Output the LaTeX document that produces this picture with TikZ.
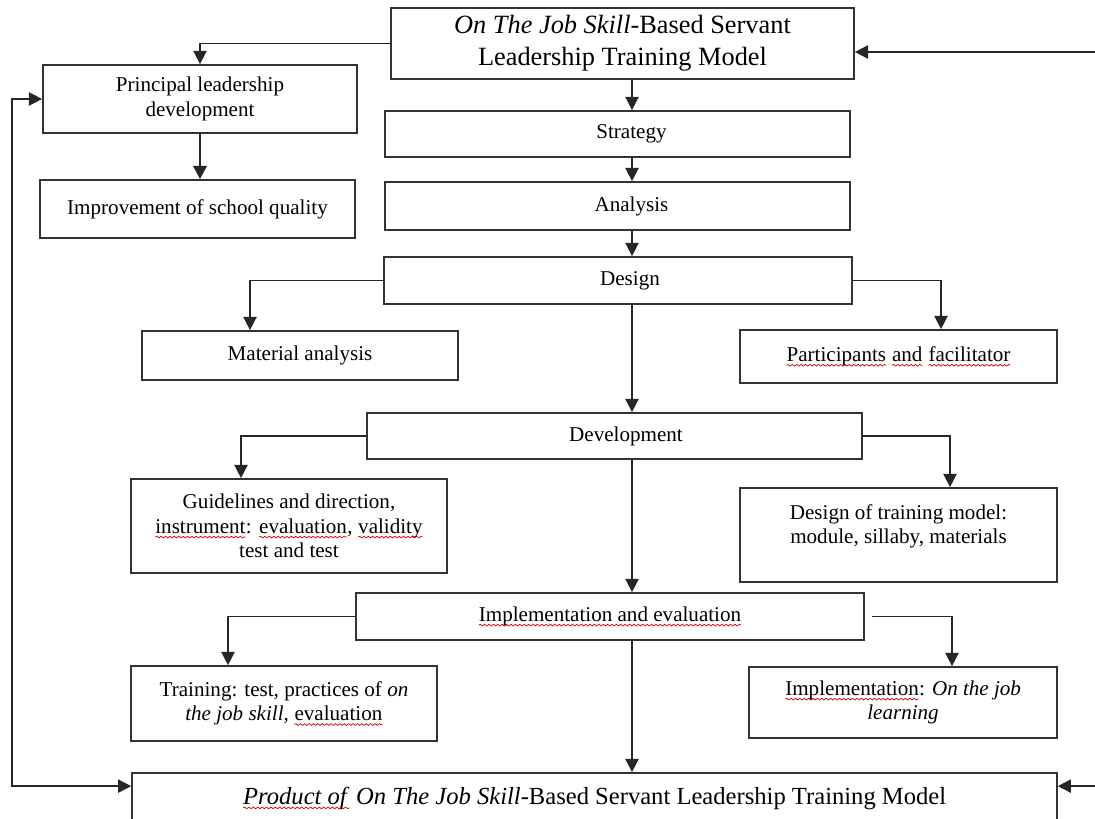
\documentclass[tikz,border=0pt]{standalone}
\usepackage{fontspec}
\setmainfont{Liberation Serif}
\usetikzlibrary{arrows.meta, decorations.pathmorphing}

% red wavy underline of the spell checker
\newcommand{\spell}[1]{\tikz[baseline=(s.base)]{\node[draw=none, inner sep=0pt, outer sep=0pt, minimum width=0pt, minimum height=0pt, align=left] (s) {#1};
	\draw[red!85!black, line width=0.4pt, -, decorate, decoration={snake, amplitude=0.5pt, segment length=2.5pt}] ([yshift=-2.2pt]s.base west) -- ([yshift=-2.2pt]s.base east);}}

\begin{document}
\begin{tikzpicture}[x=0.02cm, y=-0.02cm,
	box/.style={draw=black!80, line width=1pt, rectangle, align=center, inner sep=2pt, font=\fontsize{12}{14}\selectfont},
	bigbox/.style={box, font=\fontsize{15}{18}\selectfont},
	flow/.style={draw=black!85, line width=0.9pt, -{Triangle[length=7.5pt, width=7.5pt]}},
	feedback/.style={flow, {Triangle[length=7.5pt, width=7.5pt]}-{Triangle[length=7.5pt, width=7.5pt]}}]
	\clip (0,0) rectangle (1095,818);

	% boxes
	\node[bigbox, minimum width=9.26cm, minimum height=1.42cm] (top) at (622.5,43.5) {\textit{On The Job Skill}-Based Servant\\Leadership Training Model};
	\node[box, minimum width=6.28cm, minimum height=1.36cm] (principal) at (200,99) {Principal leadership\\development};
	\node[box, minimum width=6.3cm, minimum height=1.16cm] (improve) at (197.5,209) {Improvement of school quality};
	\node[box, minimum width=9.3cm, minimum height=0.92cm] (strategy) at (617.5,134) {\hspace*{0.56cm}Strategy};
	\node[box, minimum width=9.3cm, minimum height=0.96cm] (analysis) at (617.5,206) {\hspace*{0.56cm}Analysis};
	\node[box, minimum width=9.36cm, minimum height=0.94cm] (design) at (618,280.5) {\hspace*{0.48cm}Design};
	\node[box, minimum width=6.32cm, minimum height=0.98cm] (material) at (300,355.5) {Material analysis};
	\node[box, minimum width=6.34cm, minimum height=1.06cm] (particip) at (898.5,356.5) {\spell{Participants} \spell{and} \spell{facilitator}};
	\node[box, minimum width=9.9cm, minimum height=0.92cm] (develop) at (614.5,436) {\hspace*{0.46cm}Development};
	\node[box, minimum width=6.32cm, minimum height=1.88cm] (guide) at (289,526) {Guidelines and direction,\\\spell{instrument}: \spell{evaluation}, \spell{validity}\\test and test};
	\node[box, minimum width=6.34cm, minimum height=1.88cm] (dtm) at (898.5,535) {Design of training model:\\module, sillaby, materials\\[-0.05cm]};
	\node[box, minimum width=10.16cm, minimum height=0.94cm] (impl) at (610,616.5) {\spell{Implementation and evaluation}};
	\node[box, minimum width=6.12cm, minimum height=1.5cm] (train) at (284,703.5) {Training: test, practices of \textit{on}\\\textit{the job skill}, \spell{evaluation}};
	\node[box, minimum width=6.16cm, minimum height=1.42cm] (onjob) at (903,702.5) {\spell{Implementation}: \textit{On the job}\\\textit{learning}};
	\node[bigbox, font=\fontsize{14}{17}\selectfont, minimum width=18.5cm, minimum height=1cm] (product) at (594.5,798) {\spell{\textit{Product of}} \textit{On The Job Skill}-Based Servant Leadership Training Model};

	% columns of the bends
	\coordinate (spine) at (632,0);
	\coordinate (matcol) at (250,0);
	\coordinate (partcol) at (941,0);
	\coordinate (guidecol) at (241,0);
	\coordinate (dtmcol) at (950,0);
	\coordinate (traincol) at (228,0);
	\coordinate (jobcol) at (952,0);
	\coordinate (leftcol) at (12,0);
	\coordinate (rightcol) at (1110,0);
	\coordinate (topin) at ([yshift=-0.17cm]top.east);

	% connectors
	\draw[flow] (top.west) -| (principal.north);
	\draw[flow, line width=1.6pt] (principal.south) -- (principal.south |- improve.north);
	\draw[flow] (top.south -| spine) -- (strategy.north -| spine);
	\draw[flow] (strategy.south -| spine) -- (analysis.north -| spine);
	\draw[flow] (analysis.south -| spine) -- (design.north -| spine);
	\draw[flow] (design.west) -| (matcol |- material.north);
	\draw[flow] (design.east) -| (partcol |- particip.north);
	\draw[flow] (design.south -| spine) -- (develop.north -| spine);
	\draw[flow] (develop.west) -| (guidecol |- guide.north);
	\draw[flow] (develop.east) -| (dtmcol |- dtm.north);
	\draw[flow] (develop.south -| spine) -- (impl.north -| spine);
	\draw[flow] (impl.west) -| (traincol |- train.north);
	\draw[flow] ([xshift=0.14cm]impl.east) -| (jobcol |- onjob.north);
	\draw[flow] (impl.south -| spine) -- (product.north -| spine);

	% feedback lines
	\draw[feedback] ([yshift=-0.28cm]product.north west) -| (leftcol |- principal.west) -- (principal.west);
	\draw[feedback] ([yshift=-0.28cm]product.north east) -| (rightcol |- topin) -- (topin);
\end{tikzpicture}
\end{document}
